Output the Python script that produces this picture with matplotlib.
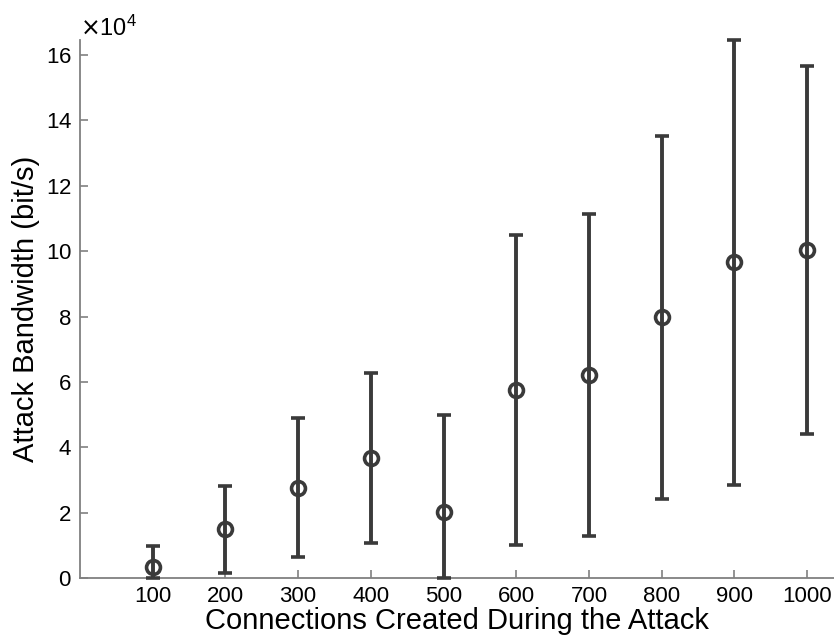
import matplotlib
matplotlib.use('Agg')
import matplotlib.pyplot as plt
from matplotlib.ticker import ScalarFormatter
import numpy as np

# connections created vs. mean attack bandwidth (bit/s) with std error bars
connections = [100, 200, 300, 400, 500, 600, 700, 800, 900, 1000]
bandwidth_mean = [3500, 14900, 27600, 36800, 20200, 57400, 62200, 79700, 96600, 100400]
bandwidth_err = [6300, 13300, 21200, 26000, 29600, 47400, 49200, 55500, 68000, 56200]

LINE_COLOR = '#3a3a3a'
AXIS_COLOR = '#808080'

plt.rcParams['font.family'] = ['Liberation Sans', 'DejaVu Sans']

# bandwidth cannot go below zero, so the lower bars stop at 0
err_low = np.minimum(bandwidth_err, bandwidth_mean)
err_high = np.array(bandwidth_err)

fig = plt.figure(figsize=(8.34, 6.4), dpi=100)
ax = fig.add_axes([80 / 834, 62 / 640, (834 - 80) / 834, (578 - 40) / 640])

ax.errorbar(connections, bandwidth_mean, yerr=[err_low, err_high],
            fmt='o', color=LINE_COLOR, markerfacecolor='none',
            markersize=10, markeredgewidth=2.6, elinewidth=2.8,
            capsize=5, capthick=2.8, clip_on=False, zorder=3)

ax.set_xlim(0, 1037)
ax.set_ylim(0, 164600)
ax.set_xticks(connections)
ax.set_yticks(np.arange(0, 160001, 20000))

fmt = ScalarFormatter(useMathText=True)
fmt.set_powerlimits((4, 4))
ax.yaxis.set_major_formatter(fmt)
ax.yaxis.get_offset_text().set_fontsize(17)

for side in ['top', 'right']:
    ax.spines[side].set_visible(False)
for side in ['left', 'bottom']:
    ax.spines[side].set_color(AXIS_COLOR)
    ax.spines[side].set_linewidth(1.3)

ax.tick_params(direction='in', length=6, width=1.2, color=AXIS_COLOR,
               labelsize=16, pad=6)

ax.set_xlabel('Connections Created During the Attack', fontsize=21, labelpad=0)
ax.set_ylabel('Attack Bandwidth (bit/s)', fontsize=21, labelpad=4)

plt.savefig('out.png', dpi=100)
plt.close()
